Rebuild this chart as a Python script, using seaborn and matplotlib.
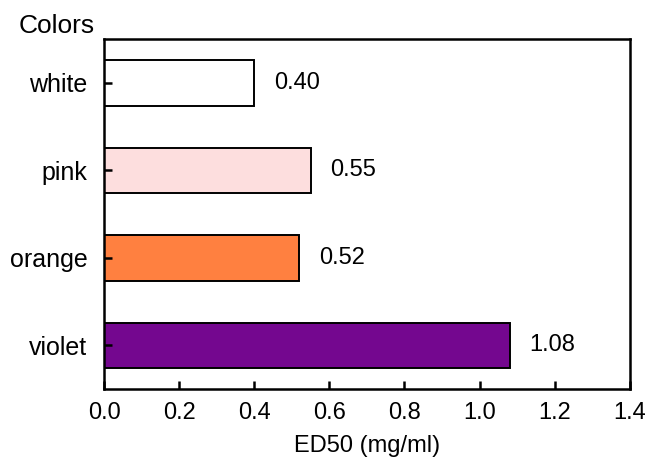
import seaborn as sns
import pandas as pd
import matplotlib
matplotlib.use("Agg")
import matplotlib.pyplot as plt

# Data
colors = ["white", "pink", "orange", "violet"]
ed50 = [0.40, 0.55, 0.52, 1.08]
bar_colors = ["#FFFFFF", "#FDDEDE", "#FF8040", "#74078F"]
xticks = [0.0, 0.2, 0.4, 0.6, 0.8, 1.0, 1.2, 1.4]

df = pd.DataFrame({"Colors": colors, "ED50": ed50})

sns.set_theme(style="ticks")
plt.rcParams["font.family"] = ["Liberation Sans", "DejaVu Sans"]
plt.rcParams["text.color"] = "black"

fig = plt.figure(figsize=(6.48, 4.61), dpi=100)
ax = fig.add_axes([0.1605, 0.156, 0.8115, 0.759])

sns.barplot(
    data=df, x="ED50", y="Colors", hue="Colors",
    palette=bar_colors, orient="h", width=0.52, saturation=1,
    edgecolor="black", linewidth=1.4, legend=False, ax=ax
)
ax.set_axisbelow(False)  # ticks drawn over the bars

# Value labels
for cont in ax.containers:
    ax.bar_label(cont, fmt="%.2f", padding=14, fontsize=17, color="black")

ax.set_xlim(0, 1.4)
ax.set_xticks(xticks)
ax.set_xticklabels([f"{t:.1f}" for t in xticks])
ax.tick_params(axis="both", which="major", direction="in", length=6, width=1.8,
               labelsize=17, color="black", labelcolor="black")
ax.tick_params(axis="x", pad=9)
ax.tick_params(axis="y", pad=12, labelsize=18)

for s in ax.spines.values():
    s.set_color("black")
    s.set_linewidth(1.8)

ax.set_xlabel("ED50 (mg/ml)", fontsize=17, labelpad=8, color="black")
ax.set_ylabel("")
fig.text(0.087, 0.944, "Colors", fontsize=19, ha="center", va="center")

fig.savefig("out.png", dpi=100)
